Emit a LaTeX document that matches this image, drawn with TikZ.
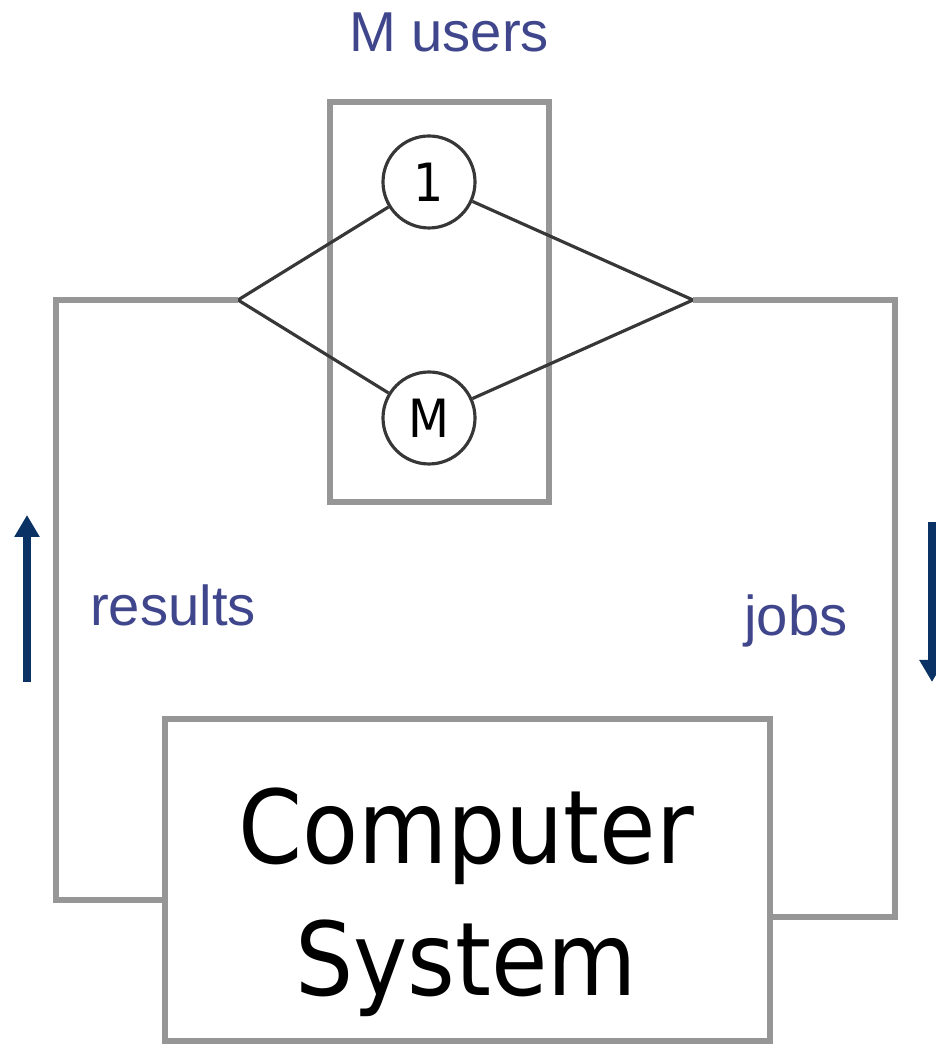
\documentclass[tikz,border=0pt]{standalone}
\usepackage{fontspec}
\setmainfont{Liberation Sans}
\newfontfamily\boxfont{DejaVu Sans Condensed}
\usetikzlibrary{arrows.meta}

\definecolor{labelblue}{RGB}{64,70,140}
\definecolor{arrownavy}{RGB}{10,50,100}
\definecolor{linegray}{RGB}{150,150,150}
\definecolor{darkline}{RGB}{55,55,55}

\tikzstyle{userbox} = [
    rectangle,
    minimum width=2.19cm,
    minimum height=4cm,
    draw=linegray,
    line width=1.7pt
]
\tikzstyle{user} = [
    circle,
    minimum size=0.92cm,
    inner sep=0pt,
    draw=darkline,
    line width=0.9pt,
    font=\boxfont\fontsize{15}{18}\selectfont
]
\tikzstyle{compbox} = [
    rectangle,
    minimum width=6.05cm,
    minimum height=3.22cm,
    draw=linegray,
    line width=1.6pt
]
\tikzstyle{comptext} = [
    align=center,
    inner sep=0pt,
    font=\boxfont\fontsize{29}{37.5}\selectfont
]
\tikzstyle{flowlabel} = [
    anchor=base,
    inner sep=0pt,
    text=labelblue,
    font=\fontsize{16}{19}\selectfont
]
\tikzstyle{loopline} = [draw=linegray, line width=1.7pt]
\tikzstyle{link} = [draw=darkline, line width=0.9pt]
\tikzstyle{arrow} = [arrownavy, line width=2.3pt, -{Triangle[width=0.24cm,length=0.22cm]}]

\begin{document}
\begin{tikzpicture}

\useasboundingbox (0,0) rectangle (9.36,10.48);

\node (users) [userbox] at (4.395,7.46) {};
\node (u1) [user] at (4.29,8.66) {1};
\node (uM) [user] at (4.29,6.30) {M};
\node (userlabel) [flowlabel] at (4.49,9.96) {M users};

\node (comp) [compbox] at (4.675,1.68) {};
\node (comptext) [comptext] at (4.66,1.46) {Computer\\System};

\coordinate (fanin) at (2.38,7.48);
\coordinate (fanout) at (6.93,7.48);
\coordinate (topleft) at (0.56,7.48);
\coordinate (botleft) at (0.56,1.48);
\coordinate (topright) at (8.95,7.48);
\coordinate (botright) at (8.95,1.31);

\draw [link] (fanin) -- (u1);
\draw [link] (fanin) -- (uM);
\draw [link] (u1) -- (fanout);
\draw [link] (uM) -- (fanout);

\draw [loopline] (fanin) -- (topleft) -- (botleft) -- (botleft -| comp.west);
\draw [loopline] (fanout) -- (topright) -- (botright) -- (botright -| comp.east);

\node (results) [flowlabel] at (1.73,4.22) {results};
\node (jobs) [flowlabel] at (7.96,4.12) {jobs};

\coordinate (upstart) at (0.27,3.66);
\coordinate (upend) at (0.27,5.33);
\coordinate (downstart) at (9.32,5.26);
\coordinate (downend) at (9.32,3.66);
\draw [arrow] (upstart) -- (upend);
\draw [arrow] (downstart) -- (downend);

\end{tikzpicture}
\end{document}
